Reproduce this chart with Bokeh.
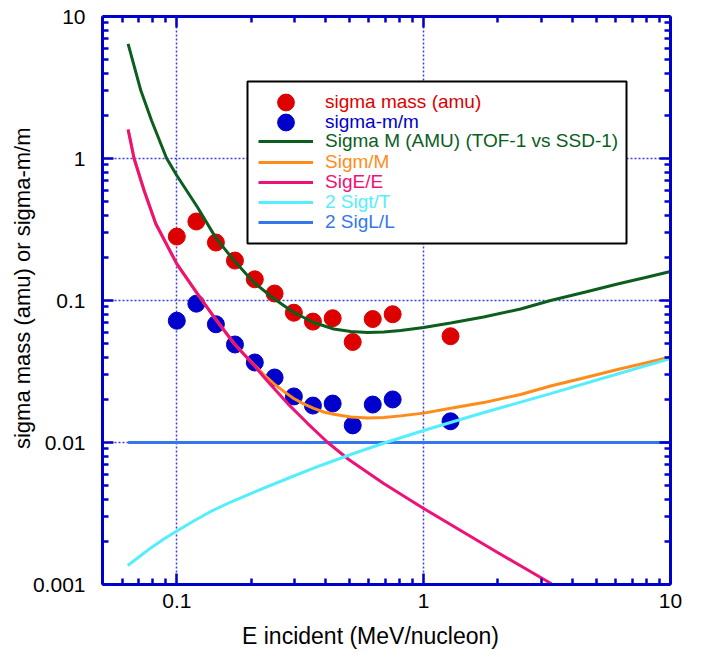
from bokeh.plotting import figure
from bokeh.models import (Range1d, FixedTicker, CustomJSTickFormatter, LogAxis,
                          Legend, LegendItem, BoxAnnotation)
from bokeh.embed import file_html
from bokeh.resources import INLINE

# ---- measured resolution (MeV/nucleon) ----
energy = [0.100, 0.120, 0.144, 0.172, 0.207, 0.249, 0.298, 0.356, 0.428, 0.516, 0.622, 0.749, 1.285]
sigma_mass_amu = [0.282, 0.360, 0.256, 0.191, 0.141, 0.112, 0.082, 0.071, 0.075, 0.051, 0.074, 0.080, 0.056]
sigma_m_over_m = [0.072, 0.095, 0.068, 0.049, 0.0366, 0.0287, 0.0211, 0.0182, 0.0188, 0.0132, 0.0185, 0.0201, 0.0141]

# ---- model curves ----
e_sigma_M = [0.0635, 0.0668, 0.0715, 0.0790, 0.0909, 0.100, 0.1213, 0.1439, 0.1706, 0.2050,
             0.2470, 0.2976, 0.3586, 0.4322, 0.5064, 0.5934, 0.6888, 0.8070, 1.000, 1.286,
             1.750, 2.470, 3.267, 4.529, 6.103, 7.921, 10.0]
sigma_M = [6.42, 4.64, 3.01, 1.85, 1.005, 0.759, 0.454, 0.276, 0.191, 0.134,
           0.1033, 0.0823, 0.0700, 0.0630, 0.0605, 0.0595, 0.0600, 0.0615, 0.0646, 0.0694,
           0.0765, 0.0871, 0.100, 0.1148, 0.1307, 0.1452, 0.160]

e_sigm_M = [0.0635, 0.0671, 0.0737, 0.0822, 0.100, 0.1213, 0.1416, 0.1706, 0.2050, 0.2251,
            0.2470, 0.2711, 0.2976, 0.3267, 0.3586, 0.3937, 0.4322, 0.5064, 0.5934, 0.6888,
            0.8070, 1.000, 1.286, 1.750, 2.470, 3.267, 4.529, 6.103, 7.921, 10.0]
sigm_M = [1.60, 1.005, 0.595, 0.347, 0.181, 0.1115, 0.0763, 0.0498, 0.0354, 0.0301,
          0.0260, 0.0229, 0.0204, 0.0187, 0.0174, 0.0164, 0.0158, 0.0151, 0.0149, 0.0150,
          0.0154, 0.0161, 0.0174, 0.0191, 0.0218, 0.0250, 0.0287, 0.0327, 0.0363, 0.0400]

e_sigE_E = [0.0635, 0.0671, 0.0737, 0.0822, 0.100, 0.1213, 0.1416, 0.1706, 0.2056, 0.2336,
            0.2814, 0.3391, 0.4087, 0.4970, 0.6888, 1.000, 1.993, 3.267, 3.30]
sigE_E = [1.60, 1.005, 0.595, 0.347, 0.181, 0.1115, 0.0763, 0.0498, 0.0348, 0.0269,
          0.0188, 0.0136, 0.0100, 0.00759, 0.00514, 0.00343, 0.00168, 0.00102, 0.00100]

e_sigt_T = [0.0633, 0.0715, 0.0785, 0.0886, 0.100, 0.1171, 0.1373, 0.1654, 0.1993, 0.2447,
            0.2977, 0.3828, 0.5064, 0.7017, 1.000, 1.701, 3.267, 5.716, 10.0]
two_sigt_T = [0.00136, 0.00160, 0.00181, 0.00209, 0.00238, 0.00280, 0.00327, 0.00381, 0.00437, 0.00506,
              0.00581, 0.00689, 0.00823, 0.0100, 0.01215, 0.0160, 0.0221, 0.0294, 0.0390]

e_sigL_L = [0.0635, 10.0]
two_sigL_L = [0.01, 0.01]

# ---- axis ticks ----
x_major = [0.1, 1, 10]
y_major = [0.001, 0.01, 0.1, 1, 10]
x_minor = [m * 10.0 ** k for k in (-2, -1, 0) for m in range(2, 10) if 0.05 <= m * 10.0 ** k <= 10]
y_minor = [m * 10.0 ** k for k in (-3, -2, -1, 0) for m in range(2, 10)]

FONT = "Liberation Sans"
AXIS_BLUE = "#0000cc"
GRID_BLUE = "#3c3ce8"
RED = "#dd0000"
BLUE = "#0000cc"
GREEN = "#0b5e1e"
ORANGE = "#ff8c1a"
PINK = "#ee1177"
CYAN = "#55eeff"
LBLUE = "#3377ee"
NBSP = "\u00a0"

FRAME_W = FRAME_H = 568

p = figure(frame_width=FRAME_W, frame_height=FRAME_H,
           x_axis_type="log", y_axis_type="log",
           x_range=Range1d(0.05, 10), y_range=Range1d(0.001, 10),
           output_backend="svg", toolbar_location=None,
           min_border_left=102, min_border_right=37,
           min_border_top=16, min_border_bottom=73,
           background_fill_color="white", border_fill_color="white")
p.outline_line_color = None

label_fmt = CustomJSTickFormatter(code="return Number(tick.toPrecision(6)).toString();")
blank_fmt = CustomJSTickFormatter(code="return '';")


def style_axis(ax, major, minor, labelled):
    ax.ticker = FixedTicker(ticks=major, minor_ticks=minor)
    ax.axis_line_color = AXIS_BLUE
    ax.axis_line_width = 3
    ax.major_tick_line_color = AXIS_BLUE
    ax.major_tick_line_width = 2.5
    ax.minor_tick_line_color = AXIS_BLUE
    ax.minor_tick_line_width = 2.5
    ax.major_tick_in = 11
    ax.major_tick_out = 0
    ax.minor_tick_in = 6
    ax.minor_tick_out = 0
    ax.major_label_text_font = FONT
    ax.major_label_text_color = "black"
    ax.axis_label_text_font = FONT
    ax.axis_label_text_font_style = "normal"
    ax.axis_label_text_color = "black"
    if labelled:
        ax.formatter = label_fmt
        ax.major_label_text_font_size = "21px"
    else:
        ax.formatter = blank_fmt
        ax.major_label_text_font_size = "1px"
        ax.major_label_standoff = 0


xax = p.xaxis[0]
yax = p.yaxis[0]
style_axis(xax, x_major, x_minor, True)
style_axis(yax, y_major, y_minor, True)
xax.axis_label = "E incident (MeV/nucleon)" + NBSP * 5
yax.axis_label = NBSP * 4 + "sigma mass (amu) or sigma-m/m"
xax.axis_label_text_font_size = "23px"
yax.axis_label_text_font_size = "22px"
xax.major_label_standoff = 9
xax.axis_label_standoff = 12
yax.major_label_standoff = 17
yax.axis_label_standoff = -5

top_ax = LogAxis()
right_ax = LogAxis()
style_axis(top_ax, x_major, x_minor, False)
style_axis(right_ax, y_major, y_minor, False)
p.add_layout(top_ax, "above")
p.add_layout(right_ax, "right")

for grid, ticks in ((p.xgrid[0], x_major), (p.ygrid[0], y_major)):
    grid.ticker = FixedTicker(ticks=ticks)
    grid.grid_line_color = GRID_BLUE
    grid.grid_line_dash = "2 2"
    grid.grid_line_width = 1.5

# ---- data ----
r_mass = p.scatter(energy, sigma_mass_amu, size=17, color=RED)
r_mm = p.scatter(energy, sigma_m_over_m, size=17, color=BLUE)
r_L = p.line(e_sigL_L, two_sigL_L, line_color=LBLUE, line_width=3)
r_M = p.line(e_sigma_M, sigma_M, line_color=GREEN, line_width=3)
r_m = p.line(e_sigm_M, sigm_M, line_color=ORANGE, line_width=3)
r_E = p.line(e_sigE_E, sigE_E, line_color=PINK, line_width=3)
r_t = p.line(e_sigt_T, two_sigt_T, line_color=CYAN, line_width=3)

# ---- legend: framed box with one row per series, each label in its series colour ----
BOX_LEFT, BOX_RIGHT, BOX_TOP, BOX_BOTTOM = 145, 524, 65, 227   # px inside the frame, from its top-left
GLYPH_X = 156
FIRST_ROW = 86
PITCH = 20.2

p.add_layout(BoxAnnotation(left=BOX_LEFT, right=BOX_RIGHT,
                           top=FRAME_H - BOX_TOP, bottom=FRAME_H - BOX_BOTTOM,
                           left_units="screen", right_units="screen",
                           top_units="screen", bottom_units="screen",
                           fill_color="white", fill_alpha=1.0,
                           line_color="black", line_alpha=1.0, line_width=2,
                           level="annotation"))

rows = [
    (r_mass, "sigma mass (amu)", RED, 42),
    (r_mm, "sigma-m/m", BLUE, 42),
    (r_M, "Sigma M (AMU) (TOF-1 vs SSD-1)", GREEN, 20),
    (r_m, "Sigm/M", ORANGE, 20),
    (r_E, "SigE/E", PINK, 20),
    (r_t, "2 Sigt/T", CYAN, 20),
    (r_L, "2 SigL/L", LBLUE, 20),
]
for i, (rend, text, color, gh) in enumerate(rows):
    center = FIRST_ROW + i * PITCH
    lg = Legend(items=[LegendItem(label=text, renderers=[rend])],
                location=(GLYPH_X, round(FRAME_H - center - gh / 2)),
                glyph_width=55, glyph_height=gh, label_height=gh,
                label_standoff=12, padding=0, margin=0, spacing=0,
                border_line_color=None, background_fill_alpha=0,
                label_text_font=FONT, label_text_font_size="19px",
                label_text_color=color)
    p.add_layout(lg)

open("out.html", "w").write(file_html(p, INLINE))
